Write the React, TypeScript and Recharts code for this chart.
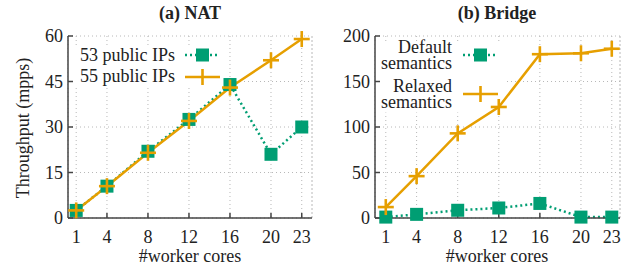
import { LineChart, Line, XAxis, YAxis, CartesianGrid, ReferenceArea, ReferenceLine } from 'recharts'

const cores = [1, 4, 8, 12, 16, 20, 23]
const nat53 = [2.5, 10.5, 22, 32.5, 44, 21, 30]
const nat55 = [2.5, 10.5, 21.5, 32, 43, 52, 59]
const bridgeDefault = [1, 4, 8.5, 11, 16, 1, 1]
const bridgeRelaxed = [12, 46, 93, 122, 180, 181, 186]
const natTicks = [0, 15, 30, 45, 60]
const bridgeTicks = [0, 50, 100, 150, 200]

const GREEN = '#009e73'
const ORANGE = '#e69f00'
const AXIS = '#444'
const GRID = '#b8b8b8'
const FONT = '"Liberation Serif", "Times New Roman", serif'
const FS = 18

const natData = cores.map((c, i) => ({ x: c, a: nat53[i], b: nat55[i] }))
const bridgeData = cores.map((c, i) => ({ x: c, a: bridgeDefault[i], b: bridgeRelaxed[i] }))

const Square = (props: any) => {
  const { cx, cy } = props
  if (cx == null || cy == null) return null
  return <rect x={cx - 6.5} y={cy - 6.5} width={13} height={13} fill={GREEN} />
}

const Plus = (props: any) => {
  const { cx, cy } = props
  if (cx == null || cy == null) return null
  return (
    <g stroke={ORANGE} strokeWidth={2.6}>
      <line x1={cx - 8} y1={cy} x2={cx + 8} y2={cy} />
      <line x1={cx} y1={cy - 8} x2={cx} y2={cy + 8} />
    </g>
  )
}

const tickStyle = { fontSize: FS, fill: '#222', style: { fontFamily: FONT } }

type PanelProps = {
  data: { x: number; a: number; b: number }[]
  xDomain: [number, number]
  yDomain: [number, number]
  yTicks: number[]
  yWidth: number
  right: number
  box: { x1: number; x2: number; y1: number; y2: number }
}

function Panel({ data, xDomain, yDomain, yTicks, yWidth, right, box }: PanelProps) {
  return (
    <LineChart
      width={320}
      height={269}
      data={data}
      margin={{ top: 36, right, left: 0, bottom: 0 }}
    >
      <CartesianGrid stroke={GRID} strokeDasharray="1 3" />
      <ReferenceLine x={xDomain[1]} stroke={GRID} strokeDasharray="1 3" />
      {/* legend backdrop, hides the grid behind the key like gnuplot does */}
      <ReferenceArea
        x1={box.x1}
        x2={box.x2}
        y1={box.y1}
        y2={box.y2}
        fill="#fff"
        fillOpacity={1}
        stroke="none"
        ifOverflow="visible"
      />
      <XAxis
        dataKey="x"
        type="number"
        domain={xDomain}
        ticks={cores}
        allowDataOverflow
        height={51}
        tick={tickStyle}
        tickSize={-5}
        tickMargin={17}
        axisLine={{ stroke: AXIS, strokeWidth: 1.5 }}
        tickLine={{ stroke: AXIS, strokeWidth: 1.5 }}
      />
      <YAxis
        type="number"
        domain={yDomain}
        ticks={yTicks}
        width={yWidth}
        tick={tickStyle}
        tickSize={-5}
        tickMargin={10}
        axisLine={{ stroke: AXIS, strokeWidth: 1.5 }}
        tickLine={{ stroke: AXIS, strokeWidth: 1.5 }}
      />
      <Line
        dataKey="a"
        stroke={GREEN}
        strokeWidth={2.5}
        strokeDasharray="2 3"
        dot={<Square />}
        activeDot={false}
        isAnimationActive={false}
      />
      <Line
        dataKey="b"
        stroke={ORANGE}
        strokeWidth={2.5}
        dot={<Plus />}
        activeDot={false}
        isAnimationActive={false}
      />
    </LineChart>
  )
}

function LegendSample({ x, y, kind }: { x: number; y: number; kind: 'sq' | 'plus' }) {
  if (kind === 'sq') {
    return (
      <g>
        <line x1={x} y1={y} x2={x + 35} y2={y} stroke={GREEN} strokeWidth={2.5} strokeDasharray="2 3" />
        <rect x={x + 11} y={y - 6.5} width={13} height={13} fill={GREEN} />
      </g>
    )
  }
  return (
    <g stroke={ORANGE} strokeWidth={2.6}>
      <line x1={x} y1={y} x2={x + 35} y2={y} />
      <line x1={x + 17.5} y1={y - 8} x2={x + 17.5} y2={y + 8} />
    </g>
  )
}

export default function App() {
  return (
    <div
      style={{
        position: 'fixed',
        left: 0,
        top: 0,
        width: 640,
        height: 269,
        background: '#fff',
        fontFamily: FONT,
      }}
    >
      <div style={{ position: 'absolute', left: 0, top: 0 }}>
        <Panel
          data={natData}
          xDomain={[0.2, 24]}
          yDomain={[0, 60]}
          yTicks={natTicks}
          yWidth={68}
          right={8}
          box={{ x1: 0.2, x2: 15.4, y1: 43.3, y2: 56.7 }}
        />
      </div>
      <div style={{ position: 'absolute', left: 320, top: 0 }}>
        <Panel
          data={bridgeData}
          xDomain={[-0.05, 23.8]}
          yDomain={[0, 200]}
          yTicks={bridgeTicks}
          yWidth={55}
          right={20}
          box={{ x1: -0.05, x2: 12.6, y1: 116, y2: 194.5 }}
        />
      </div>
      <svg
        width={640}
        height={269}
        style={{ position: 'absolute', left: 0, top: 0, pointerEvents: 'none', fontFamily: FONT }}
        fontSize={FS}
        fill="#222"
      >
        <text x={190} y={19} textAnchor="middle" fontWeight="bold">(a) NAT</text>
        <text x={497} y={19} textAnchor="middle" fontWeight="bold">(b) Bridge</text>
        <text x={190} y={262} textAnchor="middle">#worker cores</text>
        <text x={497} y={262} textAnchor="middle">#worker cores</text>
        <text x={29} y={128} textAnchor="middle" transform="rotate(-90 29 128)">Throughput (mpps)</text>

        <text x={175} y={61} textAnchor="end">53 public IPs</text>
        <text x={175} y={82} textAnchor="end">55 public IPs</text>
        <LegendSample x={185} y={55} kind="sq" />
        <LegendSample x={185} y={77} kind="plus" />

        <text x={452} y={53} textAnchor="end">Default</text>
        <text x={452} y={69} textAnchor="end">semantics</text>
        <text x={452} y={92} textAnchor="end">Relaxed</text>
        <text x={452} y={108} textAnchor="end">semantics</text>
        <LegendSample x={463} y={55} kind="sq" />
        <LegendSample x={463} y={94} kind="plus" />
      </svg>
    </div>
  )
}
